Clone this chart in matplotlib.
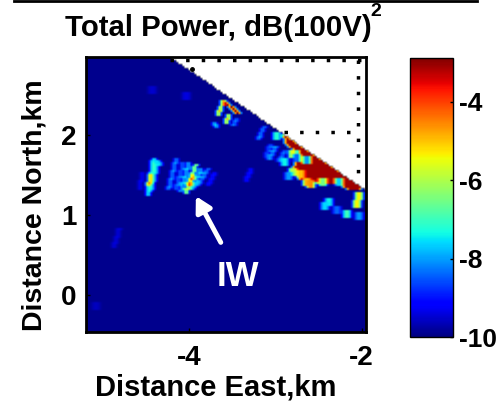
import numpy as np
import matplotlib
matplotlib.use('Agg')
import matplotlib.pyplot as plt
from matplotlib.path import Path

plt.rcParams['font.family'] = ['Liberation Sans', 'DejaVu Sans']
plt.rcParams['font.weight'] = 'bold'
plt.rcParams['axes.labelweight'] = 'bold'

VMIN, VMAX = -10, -2.88

# radar coverage limit (km)
edge_east = [-4.23, -1.95]
edge_north = [2.98, 1.31]

# streaks: start east, start north, end east, end north, value (dB)
s_e0 = [-4.44, -4.38, -4.42, -4.174, -4.093, -4.023, -3.942, -3.884, -3.80, -3.733, -4.56, -4.837,
        -3.62, -3.56, -3.48, -3.15, -3.07, -3.01, -2.90, -3.30, -3.72, -3.58, -4.47, -3.98]
s_n0 = [1.69, 1.67, 1.68, 1.69, 1.64, 1.64, 1.63, 1.58, 1.58, 1.52, 1.52, 0.83,
        2.43, 2.26, 2.19, 2.10, 1.88, 1.85, 1.81, 1.58, 2.14, 2.39, 1.50, 1.50]
s_e1 = [-4.50, -4.47, -4.35, -4.256, -4.174, -4.116, -4.058, -3.977, -3.907, -3.79, -4.60, -4.895,
        -3.69, -3.59, -3.51, -3.22, -3.13, -3.09, -2.98, -3.36, -3.70, -3.45, -4.49, -4.02]
s_n1 = [1.26, 1.30, 1.62, 1.33, 1.32, 1.30, 1.27, 1.33, 1.38, 1.38, 1.33, 0.59,
        2.25, 2.16, 2.12, 1.94, 1.73, 1.69, 1.67, 1.42, 2.11, 2.27, 1.38, 1.38]
s_val = [-7.0, -7.4, -7.6, -8.0, -8.2, -7.6, -5.6, -7.6, -8.0, -9.0, -9.2, -9.4,
         -5.0, -5.0, -8.2, -8.0, -8.4, -8.0, -8.2, -9.0, -7.6, -3.0, -4.5, -4.0]

# saturated patch along the coverage limit
red_east = [-2.92, -1.96, -2.14, -2.26, -2.49, -2.72, -2.80, -2.72, -2.88]
red_north = [2.02, 1.33, 1.30, 1.37, 1.39, 1.44, 1.58, 1.79, 1.86]
red_val = -3.1

# small patches near the edge, and faint ones in the open area
b_east = [-2.80, -2.88, -2.80, -2.63, -2.57, -2.44, -2.26, -2.38, -2.41, -2.02, -2.05, -2.15, -2.02,
          -2.28, -2.75, -2.62, -2.98, -2.70, -2.85, -4.43, -4.03, -5.08]
b_north = [1.75, 1.64, 1.52, 1.40, 1.38, 1.40, 1.40, 1.14, 1.09, 1.21, 1.11, 0.99, 0.96,
           1.05, 1.70, 1.68, 1.98, 1.50, 1.47, 2.55, 2.49, -0.15]
b_val = [-5.5, -7.4, -6.0, -5.0, -4.6, -6.5, -7.6, -7.4, -7.6, -5.4, -5.4, -7.0, -8.0,
         -8.4, -8.4, -8.0, -7.2, -5.0, -8.0, -9.5, -9.4, -9.6]

e_min, e_max = -5.2, -1.95
n_min, n_max = -0.46, 2.98
n_e, n_n = 140, 138
east = np.linspace(e_min, e_max, n_e)
north = np.linspace(n_min, n_max, n_n)
EE, NN = np.meshgrid(east, north)
grid = np.full(EE.shape, VMIN + 0.1)

inside = Path(list(zip(red_east, red_north))).contains_points(np.c_[EE.ravel(), NN.ravel()])
grid[inside.reshape(EE.shape)] = red_val

for k in range(len(s_val)):
    for t in np.linspace(0, 1, 40):
        i = np.abs(north - (s_n0[k] + t * (s_n1[k] - s_n0[k]))).argmin()
        j = np.abs(east - (s_e0[k] + t * (s_e1[k] - s_e0[k]))).argmin()
        grid[i, j:j + 2] = s_val[k]

for e, n, v in zip(b_east, b_north, b_val):
    i = np.abs(north - n).argmin()
    j = np.abs(east - e).argmin()
    grid[i - 1:i + 3, j - 2:j + 2] = v

# soften a little, the source picture is blurry
kernel = np.array([0.25, 0.5, 0.25])
grid = np.apply_along_axis(lambda r: np.convolve(r, kernel, mode='same'), 1, grid)
grid[:, 0] = VMIN + 0.1
grid[:, -1] = grid[:, -2]

limit = np.interp(EE, edge_east, edge_north)
grid = np.ma.masked_where(NN > limit, grid)

fig = plt.figure(figsize=(4.99, 4.04), dpi=100)
W, H = 499, 404
ax = fig.add_axes([86 / W, 1 - 332 / H, 280 / W, 275 / H])
im = ax.imshow(grid, origin='lower', extent=[e_min, e_max, n_min, n_max], aspect='auto',
               cmap='jet', vmin=VMIN, vmax=VMAX, interpolation='bilinear')

# dotted grid lines on the white corner
ax.plot([-4.23, -2.0], [2.94, 2.94], ls=(0, (1, 3.5)), color='k', lw=2.5)
ax.plot([-2.04, -2.04], [2.94, 1.44], ls=(0, (1, 3.5)), color='k', lw=2.5)
ax.plot([-2.90, -2.04], [2.04, 2.04], ls=(0, (1, 3.5)), color='k', lw=2.5)
ax.plot([-3.97], [2.83], 'o', color='k', ms=2.5)

ax.set_xlim(e_min, e_max)
ax.set_ylim(n_min, n_max)
ax.set_xticks([-4, -2])
ax.set_xticklabels(['-4', '-2'], fontsize=20)
ax.set_yticks([0, 1, 2])
ax.set_yticklabels(['0', '1', '2'], fontsize=20)
ax.tick_params(length=3, width=1, direction='in', pad=7)
ax.tick_params(axis='x', pad=9.5)
for sp in ax.spines.values():
    sp.set_linewidth(2)

ax.annotate('', xy=(-3.94, 1.27), xytext=(-3.62, 0.63),
            arrowprops=dict(arrowstyle='-|>,head_width=0.5,head_length=0.9', color='white', lw=3.5))
ax.text(-3.44, 0.24, 'IW', color='white', fontsize=25, ha='center', va='center')

fig.text(65 / W, 1 - 28 / H, 'Total Power, dB(100V)', fontsize=21.2, ha='left', va='center')
fig.text(376 / W, 1 - 11 / H, '2', fontsize=14, ha='center', va='center')
fig.text(216 / W, 1 - 387 / H, 'Distance East,km', fontsize=21, ha='center', va='center')
fig.text(35 / W, 1 - 205 / H, 'Distance North,km', fontsize=20.5, ha='center', va='center', rotation=90)

# top edge of the panel above, cropped in the source
fig.add_artist(plt.Line2D([14 / W, 477 / W], [1 - 0.5 / H, 1 - 0.5 / H], color='k', lw=2))

cax = fig.add_axes([410 / W, 1 - 337 / H, 43 / W, 279 / H])
cb = fig.colorbar(im, cax=cax)
cb.set_ticks([-10, -8, -6, -4])
cb.set_ticklabels(['-10', '-8', '-6', '-4'], fontsize=19)
cb.ax.tick_params(length=2, width=1, direction='in', pad=4)
cb.outline.set_linewidth(1)

fig.savefig('out.png', dpi=100)
